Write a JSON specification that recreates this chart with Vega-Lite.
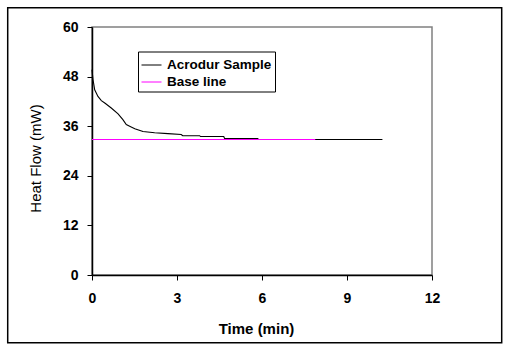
{
  "$schema": "https://vega.github.io/schema/vega-lite/v6.json",
  "width": 340,
  "height": 248,
  "autosize": {"type": "none"},
  "padding": {"left": 92, "top": 27, "right": 81, "bottom": 76},
  "background": "white",
  "config": {
    "view": {"stroke": "#808080", "strokeWidth": 1.5},
    "font": "Liberation Sans",
    "axisX": {
      "grid": false,
      "domainColor": "black",
      "domainWidth": 1.5,
      "tickColor": "black",
      "tickWidth": 1,
      "tickSize": 5,
      "labelFont": "Liberation Sans",
      "labelFontWeight": "bold",
      "labelFontSize": 14,
      "labelColor": "black",
      "labelPadding": 11,
      "labelFlush": false,
      "titleFont": "Liberation Sans",
      "titleFontWeight": "bold",
      "titleFontSize": 15,
      "titleColor": "black",
      "titleBaseline": "alphabetic",
      "titleX": 164,
      "titleY": 58
    },
    "axisY": {
      "grid": false,
      "domainColor": "black",
      "domainWidth": 1.5,
      "tickColor": "black",
      "tickWidth": 1,
      "tickSize": 5,
      "labelFont": "Liberation Sans",
      "labelFontWeight": "bold",
      "labelFontSize": 14,
      "labelColor": "black",
      "labelPadding": 9,
      "labelFlush": false,
      "titleFont": "Liberation Sans",
      "titleFontWeight": "normal",
      "titleFontSize": 15,
      "titleColor": "black",
      "titleAngle": -90,
      "titleAlign": "center",
      "titleBaseline": "alphabetic",
      "titleX": -52,
      "titleY": 131
    }
  },
  "data": {
    "values": [
      {"series": "Acrodur Sample", "time": 0, "heat": 49.7},
      {"series": "Acrodur Sample", "time": 0.035, "heat": 47.3},
      {"series": "Acrodur Sample", "time": 0.095, "heat": 44.8},
      {"series": "Acrodur Sample", "time": 0.21, "heat": 43.2},
      {"series": "Acrodur Sample", "time": 0.33, "heat": 42.2},
      {"series": "Acrodur Sample", "time": 0.45, "heat": 41.6},
      {"series": "Acrodur Sample", "time": 0.68, "heat": 40.4},
      {"series": "Acrodur Sample", "time": 0.92, "heat": 39.0},
      {"series": "Acrodur Sample", "time": 1.09, "heat": 37.6},
      {"series": "Acrodur Sample", "time": 1.21, "heat": 36.4},
      {"series": "Acrodur Sample", "time": 1.33, "heat": 36.0},
      {"series": "Acrodur Sample", "time": 1.51, "heat": 35.4},
      {"series": "Acrodur Sample", "time": 1.8, "heat": 34.7},
      {"series": "Acrodur Sample", "time": 2.21, "heat": 34.4},
      {"series": "Acrodur Sample", "time": 2.68, "heat": 34.2},
      {"series": "Acrodur Sample", "time": 3.15, "heat": 34.0},
      {"series": "Acrodur Sample", "time": 3.2, "heat": 33.7},
      {"series": "Acrodur Sample", "time": 3.8, "heat": 33.7},
      {"series": "Acrodur Sample", "time": 3.83, "heat": 33.5},
      {"series": "Acrodur Sample", "time": 4.65, "heat": 33.5},
      {"series": "Acrodur Sample", "time": 4.68, "heat": 33.02},
      {"series": "Acrodur Sample", "time": 5.85, "heat": 33.02},
      {"series": "Acrodur Sample", "time": 5.88, "heat": 32.78},
      {"series": "Acrodur Sample", "time": 10.25, "heat": 32.78},
      {"series": "Base line", "time": 0, "heat": 32.78},
      {"series": "Base line", "time": 7.88, "heat": 32.78}
    ]
  },
  "layer": [
    {
      "data": {"values": [{}]},
      "mark": {"type": "rect", "fill": null, "stroke": "black", "strokeWidth": 1.5},
      "encoding": {
        "x": {"datum": -2.975, "type": "quantitative", "scale": {"domain": [0, 12], "nice": false}},
        "x2": {"datum": 14.46},
        "y": {"datum": 64.67, "type": "quantitative", "scale": {"domain": [0, 60], "nice": false}},
        "y2": {"datum": -16.38}
      }
    },
    {
      "transform": [{"filter": "datum.series === 'Acrodur Sample'"}],
      "mark": {"type": "line", "strokeWidth": 1.1, "interpolate": "linear"},
      "encoding": {
        "x": {"field": "time", "type": "quantitative", "scale": {"domain": [0, 12], "nice": false}, "axis": {"title": "Time (min)", "values": [0, 3, 6, 9, 12]}},
        "y": {"field": "heat", "type": "quantitative", "scale": {"domain": [0, 60], "nice": false}, "axis": {"title": "Heat Flow (mW)", "values": [0, 12, 24, 36, 48, 60]}},
        "color": {
          "field": "series",
          "type": "nominal",
          "scale": {"domain": ["Acrodur Sample", "Base line"], "range": ["#000000", "#FF00FF"]},
          "legend": {
            "title": null,
            "orient": "none",
            "legendX": 46,
            "legendY": 24.5,
            "strokeColor": "black",
            "fillColor": "white",
            "padding": 3,
            "symbolType": "stroke",
            "symbolSize": 400,
            "symbolStrokeWidth": 1,
            "labelFont": "Liberation Sans",
            "labelFontWeight": "bold",
            "labelFontSize": 13.5,
            "labelColor": "black",
            "labelOffset": 5,
            "rowPadding": 0
          }
        }
      }
    },
    {
      "transform": [{"filter": "datum.series === 'Base line'"}],
      "mark": {"type": "line", "strokeWidth": 1.1, "interpolate": "linear"},
      "encoding": {
        "x": {"field": "time", "type": "quantitative", "scale": {"domain": [0, 12], "nice": false}},
        "y": {"field": "heat", "type": "quantitative", "scale": {"domain": [0, 60], "nice": false}},
        "color": {"field": "series", "type": "nominal"}
      }
    }
  ]
}
